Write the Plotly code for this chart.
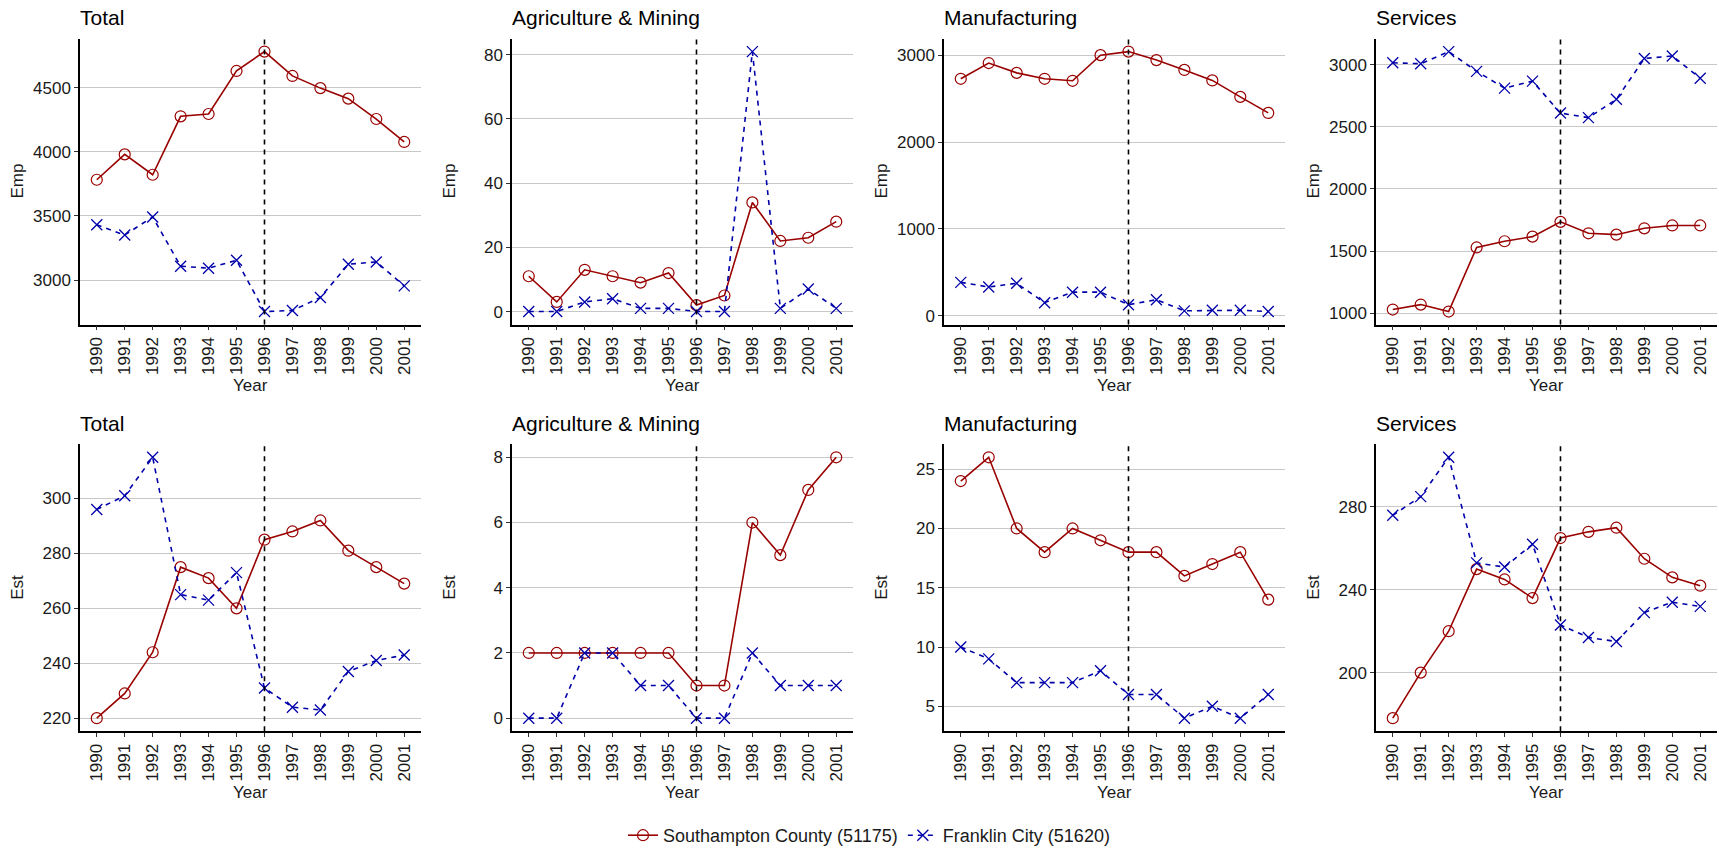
import plotly.graph_objects as go

years = [1990, 1991, 1992, 1993, 1994, 1995, 1996, 1997, 1998, 1999, 2000, 2001]
year_labels = [str(y) for y in years]
treat_year = 1996

sectors = ["Total", "Agriculture & Mining", "Manufacturing", "Services"]
series_names = ["Southampton County (51175)", "Franklin City (51620)"]

# Employment (Emp)
emp_south_total = [3782, 3980, 3821, 4277, 4295, 4631, 4782, 4592, 4497, 4415, 4256, 4077]
emp_frank_total = [3431, 3351, 3492, 3108, 3092, 3154, 2754, 2762, 2864, 3123, 3141, 2954]
emp_south_ag = [11, 3, 13, 11, 9, 12, 2, 5, 34, 22, 23, 28]
emp_frank_ag = [0, 0, 3, 4, 1, 1, 0, 0, 81, 1, 7, 1]
emp_south_mfg = [2728, 2909, 2796, 2728, 2705, 3000, 3041, 2943, 2830, 2709, 2520, 2335]
emp_frank_mfg = [385, 332, 374, 151, 272, 272, 128, 185, 57, 64, 64, 49]
emp_south_svc = [1029, 1069, 1013, 1529, 1579, 1616, 1735, 1643, 1632, 1683, 1706, 1706]
emp_frank_svc = [3016, 3008, 3106, 2947, 2812, 2868, 2611, 2574, 2722, 3050, 3071, 2892]

# Establishments (Est)
est_south_total = [220, 229, 244, 275, 271, 260, 285, 288, 292, 281, 275, 269]
est_frank_total = [296, 301, 315, 265, 263, 273, 231, 224, 223, 237, 241, 243]
est_south_ag = [2, 2, 2, 2, 2, 2, 1, 1, 6, 5, 7, 8]
est_frank_ag = [0, 0, 2, 2, 1, 1, 0, 0, 2, 1, 1, 1]
est_south_mfg = [24, 26, 20, 18, 20, 19, 18, 18, 16, 17, 18, 14]
est_frank_mfg = [10, 9, 7, 7, 7, 8, 6, 6, 4, 5, 4, 6]
est_south_svc = [178, 200, 220, 250, 245, 236, 265, 268, 270, 255, 246, 242]
est_frank_svc = [276, 285, 304, 253, 251, 262, 223, 217, 215, 229, 234, 232]

panels = [
    ("Total", "Emp", emp_south_total, emp_frank_total, 500),
    ("Agriculture & Mining", "Emp", emp_south_ag, emp_frank_ag, 20),
    ("Manufacturing", "Emp", emp_south_mfg, emp_frank_mfg, 1000),
    ("Services", "Emp", emp_south_svc, emp_frank_svc, 500),
    ("Total", "Est", est_south_total, est_frank_total, 20),
    ("Agriculture & Mining", "Est", est_south_ag, est_frank_ag, 2),
    ("Manufacturing", "Est", est_south_mfg, est_frank_mfg, 5),
    ("Services", "Est", est_south_svc, est_frank_svc, 40),
]

W, H = 1719, 854
col_left = [80, 512, 944, 1376]
col_w = 341
row_top = [39, 449]
row_h = [289, 290]

RED = "#990000"
BLUE = "#0000AA"
FONT = "Liberation Sans, Arial, sans-serif"
TXT = "#1a1a1a"
FS = 17

fig = go.Figure()
annotations = []
shapes = []

for i, (title, ylab, south, frank, dt) in enumerate(panels):
    r, c = divmod(i, 4)
    n = i + 1
    xa = "x" if n == 1 else f"x{n}"
    ya = "y" if n == 1 else f"y{n}"
    x0 = col_left[c] / W
    x1 = (col_left[c] + col_w) / W
    y1 = 1 - row_top[r] / H
    y0 = 1 - (row_top[r] + row_h[r]) / H

    fig.add_trace(go.Scatter(
        x=years, y=south, xaxis=xa, yaxis=ya, mode="lines+markers",
        name=series_names[0], legendgroup="s", showlegend=(i == 0),
        line=dict(color=RED, width=1.6),
        marker=dict(symbol="circle-open", size=11, color=RED, line=dict(width=1.2, color=RED)),
    ))
    fig.add_trace(go.Scatter(
        x=years, y=frank, xaxis=xa, yaxis=ya, mode="lines+markers",
        name=series_names[1], legendgroup="f", showlegend=(i == 0),
        line=dict(color=BLUE, width=1.6, dash="5px,5px"),
        marker=dict(symbol="x-thin-open", size=11, color=BLUE, line=dict(width=1.3, color=BLUE)),
    ))

    vals = south + frank
    lo, hi = min(vals), max(vals)
    pad = (hi - lo) * 0.05
    xkey = "xaxis" if n == 1 else f"xaxis{n}"
    ykey = "yaxis" if n == 1 else f"yaxis{n}"
    fig.layout[xkey] = dict(
        domain=[x0, x1], anchor=ya, range=[years[0] - 0.6, years[-1] + 0.6],
        tickmode="array", tickvals=years, ticktext=year_labels, tickangle=-90,
        showgrid=False, zeroline=False, showline=True, linecolor="black", linewidth=1.5,
        ticks="outside", ticklen=4, tickcolor="#333", tickwidth=1,
        tickfont=dict(family=FONT, size=FS, color=TXT), fixedrange=True,
    )
    fig.layout[ykey] = dict(
        domain=[y0, y1], anchor=xa, range=[lo - pad, hi + pad], dtick=dt, tick0=0,
        showgrid=True, gridcolor="#c8c8c8", gridwidth=1, zeroline=False,
        showline=True, linecolor="black", linewidth=1.5,
        ticks="outside", ticklen=4, tickcolor="#333", tickwidth=1,
        tickfont=dict(family=FONT, size=FS, color=TXT), fixedrange=True,
    )

    yref_dom = f"{ya} domain"
    shapes.append(dict(type="line", xref=xa, yref=yref_dom, x0=treat_year, x1=treat_year,
                       y0=0, y1=1, line=dict(color="black", width=1.6, dash="5px,5px")))

    # panel title
    annotations.append(dict(text=title, xref="paper", yref="paper",
                            x=x0 - 2 / W, y=1 - (18 if r == 0 else 428) / H,
                            xanchor="left", yanchor="middle", showarrow=False,
                            font=dict(family=FONT, size=21, color="black")))
    # y-axis title
    annotations.append(dict(text=ylab, xref="paper", yref="paper",
                            x=(col_left[c] - 62) / W, y=(y0 + y1) / 2, textangle=-90,
                            xanchor="center", yanchor="middle", showarrow=False,
                            font=dict(family=FONT, size=FS, color=TXT)))
    # x-axis title
    annotations.append(dict(text="Year", xref="paper", yref="paper",
                            x=(x0 + x1) / 2, y=1 - (390 if r == 0 else 801) / H,
                            xanchor="center", yanchor="middle", showarrow=False,
                            font=dict(family=FONT, size=FS, color=TXT)))

fig.update_layout(
    width=W, height=H, autosize=False,
    margin=dict(l=0, r=0, t=0, b=0),
    paper_bgcolor="white", plot_bgcolor="white",
    font=dict(family=FONT, size=FS, color=TXT),
    annotations=annotations, shapes=shapes,
    legend=dict(orientation="h", x=869 / W, xanchor="center", y=1 - 826 / H, yanchor="top",
                font=dict(family=FONT, size=18, color=TXT), itemwidth=30,
                bgcolor="rgba(0,0,0,0)", borderwidth=0),
    hovermode=False,
)

fig.write_html(
    "out.html",
    config={"displayModeBar": False},
    post_script="document.body.style.margin='0';document.body.style.padding='0';document.body.style.overflow='hidden';",
)
